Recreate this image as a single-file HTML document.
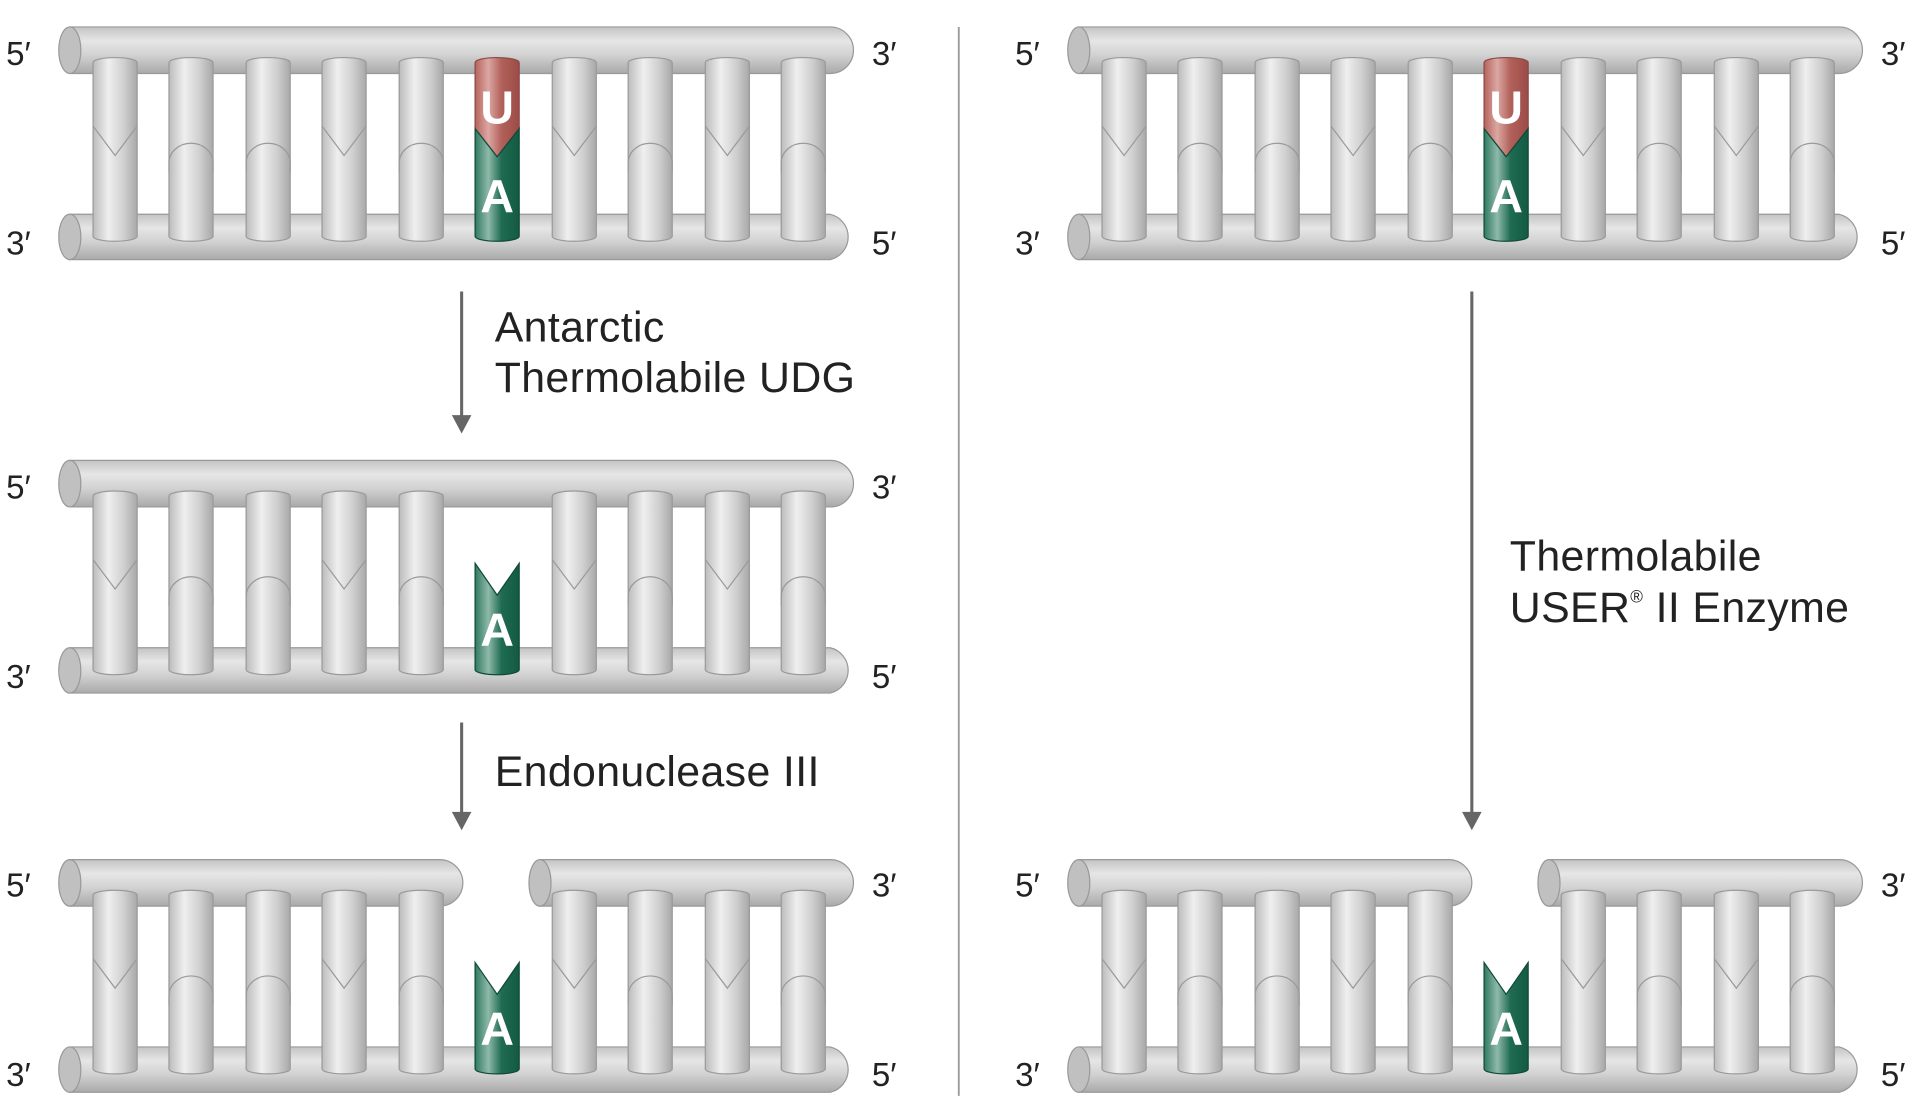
<!DOCTYPE html>
<html><head><meta charset="utf-8"><style>
html,body{margin:0;padding:0;background:#fff;}
svg{display:block;}
text{font-family:"Liberation Sans",sans-serif;}
</style></head><body>
<svg width="1920" height="1117" viewBox="0 0 1568 912.2" xmlns="http://www.w3.org/2000/svg">
<defs>
<linearGradient id="bb" x1="0" y1="0" x2="0" y2="1">
<stop offset="0" stop-color="#c4c4c4"/><stop offset="0.3" stop-color="#e6e6e6"/><stop offset="0.6" stop-color="#d2d2d2"/><stop offset="1" stop-color="#a9a9a9"/>
</linearGradient>
<linearGradient id="rg" x1="0" y1="0" x2="1" y2="0">
<stop offset="0" stop-color="#bcbcbc"/><stop offset="0.35" stop-color="#efefef"/><stop offset="0.7" stop-color="#cfcfcf"/><stop offset="1" stop-color="#a8a8a8"/>
</linearGradient>
<linearGradient id="gr" x1="0" y1="0" x2="1" y2="0">
<stop offset="0" stop-color="#2f7a60"/><stop offset="0.3" stop-color="#8fb9aa"/><stop offset="0.6" stop-color="#1f6b52"/><stop offset="1" stop-color="#135a43"/>
</linearGradient>
<linearGradient id="rd" x1="0" y1="0" x2="1" y2="0">
<stop offset="0" stop-color="#b8635d"/><stop offset="0.3" stop-color="#dba7a2"/><stop offset="0.6" stop-color="#b2605a"/><stop offset="1" stop-color="#9c4b46"/>
</linearGradient>
<g id="rung">
<path d="M-18,10 L-18,152 A18,4 0 0 0 18,152 L18,10 A18,4 0 0 0 -18,10 Z" fill="url(#rg)" stroke="#9a9a9a" stroke-width="1"/>
</g>
<g id="rv"><use href="#rung"/><polyline points="-18,62 0,86 18,62" fill="none" stroke="#9a9a9a" stroke-width="1"/></g>
<g id="ra"><use href="#rung"/><path d="M-18,100 L-18,92 A18,16 0 0 1 18,92 L18,100" fill="none" stroke="#9a9a9a" stroke-width="1"/></g>
<g id="ua">
<path d="M-18,10 L-18,64 L0,87 L18,64 L18,10 A18,4 0 0 0 -18,10 Z" fill="url(#rd)" stroke="#8a4a46" stroke-width="1"/>
<path d="M-18,64 L0,87 L18,64 L18,152 A18,4 0 0 1 -18,152 Z" fill="url(#gr)" stroke="#0f4a37" stroke-width="1"/>
<text x="0" y="60" text-anchor="middle" fill="#fff" font-size="38" font-weight="bold">U</text>
<text x="0" y="132" text-anchor="middle" fill="#fff" font-size="38" font-weight="bold">A</text>
</g>
<g id="aonly">
<path d="M-18,65 L0,91 L18,65 L18,152 A18,4 0 0 1 -18,152 Z" fill="url(#gr)" stroke="#0f4a37" stroke-width="1"/>
<text x="0" y="132" text-anchor="middle" fill="#fff" font-size="38" font-weight="bold">A</text>
</g>
</defs>

<line x1="783" y1="22" x2="783" y2="895" stroke="#9a9a9a" stroke-width="1.5"/>

<g id="row1">
<path d="M57,22 L678,22 A19,19 0 0 1 678,60 L57,60 Z" fill="url(#bb)" stroke="#999" stroke-width="1"/>
<ellipse cx="57" cy="41" rx="9" ry="19" fill="#c0c0c0" stroke="#999"/>
<path d="M57,175 L678,175 A19,19 0 0 1 678,212 L57,212 Z" fill="url(#bb)" stroke="#999" stroke-width="1"/>
<ellipse cx="57" cy="193.5" rx="9" ry="18.5" fill="#c0c0c0" stroke="#999"/>
<g transform="translate(0,41)">
<use href="#rv" x="94"/><use href="#ra" x="156"/><use href="#ra" x="219"/><use href="#rv" x="281"/><use href="#ra" x="344"/><use href="#ua" x="406"/><use href="#rv" x="469"/><use href="#ra" x="531"/><use href="#rv" x="594"/><use href="#ra" x="656"/>
</g>
</g>
<use href="#row1" x="824"/>

<g transform="translate(0,354)">
<path d="M57,22 L678,22 A19,19 0 0 1 678,60 L57,60 Z" fill="url(#bb)" stroke="#999" stroke-width="1"/>
<ellipse cx="57" cy="41" rx="9" ry="19" fill="#c0c0c0" stroke="#999"/>
<path d="M57,175 L678,175 A19,19 0 0 1 678,212 L57,212 Z" fill="url(#bb)" stroke="#999" stroke-width="1"/>
<ellipse cx="57" cy="193.5" rx="9" ry="18.5" fill="#c0c0c0" stroke="#999"/>
<g transform="translate(0,41)">
<use href="#rv" x="94"/><use href="#ra" x="156"/><use href="#ra" x="219"/><use href="#rv" x="281"/><use href="#ra" x="344"/><use href="#aonly" x="406"/><use href="#rv" x="469"/><use href="#ra" x="531"/><use href="#rv" x="594"/><use href="#ra" x="656"/>
</g>
</g>

<g id="row3" transform="translate(0,680)">
<path d="M57,22 L359,22 A19,19 0 0 1 359,60 L57,60 Z" fill="url(#bb)" stroke="#999" stroke-width="1"/>
<ellipse cx="57" cy="41" rx="9" ry="19" fill="#c0c0c0" stroke="#999"/>
<path d="M441,22 L678,22 A19,19 0 0 1 678,60 L441,60 Z" fill="url(#bb)" stroke="#999" stroke-width="1"/>
<ellipse cx="441" cy="41" rx="9" ry="19" fill="#c0c0c0" stroke="#999"/>
<path d="M57,175 L678,175 A19,19 0 0 1 678,212 L57,212 Z" fill="url(#bb)" stroke="#999" stroke-width="1"/>
<ellipse cx="57" cy="193.5" rx="9" ry="18.5" fill="#c0c0c0" stroke="#999"/>
<g transform="translate(0,41)">
<use href="#rv" x="94"/><use href="#ra" x="156"/><use href="#ra" x="219"/><use href="#rv" x="281"/><use href="#ra" x="344"/><use href="#aonly" x="406"/><use href="#rv" x="469"/><use href="#ra" x="531"/><use href="#rv" x="594"/><use href="#ra" x="656"/>
</g>
</g>
<use href="#row3" x="824"/>

<g font-size="27" fill="#222">
<text x="5" y="53">5′</text><text x="712" y="53">3′</text>
<text x="5" y="208">3′</text><text x="712" y="208">5′</text>
<text x="5" y="407">5′</text><text x="712" y="407">3′</text>
<text x="5" y="562">3′</text><text x="712" y="562">5′</text>
<text x="5" y="732">5′</text><text x="712" y="732">3′</text>
<text x="5" y="887">3′</text><text x="712" y="887">5′</text>
<text x="829" y="53">5′</text><text x="1536" y="53">3′</text>
<text x="829" y="208">3′</text><text x="1536" y="208">5′</text>
<text x="829" y="732">5′</text><text x="1536" y="732">3′</text>
<text x="829" y="887">3′</text><text x="1536" y="887">5′</text>
</g>

<g stroke="#666" stroke-width="2.5" fill="#666">
<line x1="377" y1="238" x2="377" y2="342"/><polygon points="369,339 385,339 377,354" stroke="none"/>
<line x1="377" y1="590" x2="377" y2="666"/><polygon points="369,663 385,663 377,678" stroke="none"/>
<line x1="1202" y1="238" x2="1202" y2="666"/><polygon points="1194,663 1210,663 1202,678" stroke="none"/>
</g>

<g font-size="35" fill="#222" letter-spacing="0.3">
<text x="404" y="279">Antarctic</text>
<text x="404" y="320">Thermolabile UDG</text>
<text x="404" y="642">Endonuclease III</text>
<text x="1233" y="466">Thermolabile</text>
<text x="1233" y="508">USER<tspan font-size="14" dy="-16">®</tspan><tspan dy="16"> II Enzyme</tspan></text>
</g>
</svg>
</body></html>
